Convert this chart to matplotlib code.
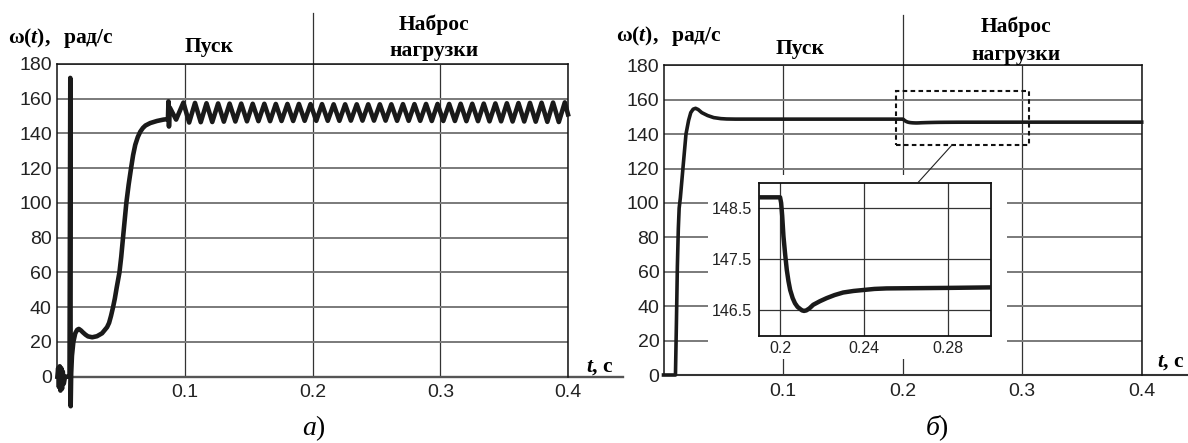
import matplotlib
matplotlib.use("Agg")
import matplotlib.pyplot as plt
from matplotlib.patches import Rectangle
from matplotlib.lines import Line2D

plt.rcParams['mathtext.fontset'] = 'custom'
plt.rcParams['mathtext.rm'] = 'Liberation Serif:bold'
plt.rcParams['mathtext.bf'] = 'Liberation Serif:bold:italic'
plt.rcParams['mathtext.it'] = 'Liberation Serif:italic'

# ---------------- data ----------------
y_ticks = [0, 20, 40, 60, 80, 100, 120, 140, 160, 180]
x_ticks = [0.1, 0.2, 0.3, 0.4]
x_ticklabels = ["0.1", "0.2", "0.3", "0.4"]
inset_x_ticks = [0.2, 0.24, 0.28]
inset_x_ticklabels = ["0.2", "0.24", "0.28"]
inset_y_ticks = [146.5, 147.5, 148.5]
inset_y_ticklabels = ["146.5", "147.5", "148.5"]

y_label = r"$\mathrm{\omega(}\mathbf{t}\mathrm{),}$  рад/с"
t_label = r"$\mathbf{t}$, с"
stage_start = "Пуск"
stage_load_1 = "Наброс"
stage_load_2 = "нагрузки"
panel_a = r"$\mathit{а}$)"
panel_b = r"$\mathit{б}$)"

# panel (a): start-up transient
t_a_start = [0.0, 0.0006, 0.0012, 0.0018, 0.0024, 0.0030, 0.0036, 0.0042, 0.0050,
             0.0060, 0.0075, 0.0095, 0.0101, 0.0104, 0.0108, 0.0114, 0.0125, 0.0140,
             0.0155, 0.0168, 0.0185, 0.0200, 0.0220, 0.0240, 0.0273, 0.0310, 0.0350,
             0.0389, 0.0405, 0.0420, 0.0436, 0.0450, 0.0465, 0.0486, 0.0500, 0.0514,
             0.0527, 0.0540, 0.0558, 0.0577, 0.0593, 0.0610, 0.0630, 0.0649, 0.0670,
             0.0690, 0.0727, 0.0780, 0.0831, 0.0866, 0.0870, 0.0874, 0.0880, 0.0930]
w_a_start = [0, 5, -6, 6, -8, 5, -7, 3, -4,
             0, 0, 0, 172, -17, 2, 12, 20, 25,
             27.0, 27.5, 26.6, 25.5, 24.2, 23.2, 22.7, 23.3, 25.0,
             28.5, 31.0, 35.0, 40.0, 45.0, 51.5, 60.0, 69.0, 80.0,
             90.0, 100.0, 110.5, 120.0, 127.5, 133.5, 138.0, 141.0, 143.2,
             144.6, 146.0, 147.2, 148.0, 148.3, 158.5, 144.0, 155.0, 148.0]

# panel (a): steady-state ripple, peaks and troughs
t_a_peaks = [0.0987, 0.1078, 0.1168, 0.1259, 0.1349, 0.1440, 0.1530, 0.1621, 0.1711,
             0.1802, 0.1892, 0.1983, 0.2073, 0.2164, 0.2254, 0.2345, 0.2435, 0.2526,
             0.2616, 0.2707, 0.2797, 0.2888, 0.2978, 0.3069, 0.3159, 0.3250, 0.3340,
             0.3431, 0.3521, 0.3612, 0.3702, 0.3793, 0.3883, 0.3975]
w_a_peaks = [157.8, 157.6, 157.4, 157.3, 157.2, 157.2, 157.1, 157.1, 157.0,
             157.0, 157.0, 156.9, 156.9, 156.8, 156.8, 156.8, 156.8, 156.8,
             156.8, 156.9, 156.9, 157.0, 157.0, 157.0, 157.1, 157.1, 157.2,
             157.3, 157.4, 157.5, 157.6, 157.7, 157.8, 157.9]
t_a_troughs = [0.1032, 0.1123, 0.1213, 0.1304, 0.1394, 0.1485, 0.1575, 0.1666, 0.1756,
               0.1847, 0.1937, 0.2028, 0.2118, 0.2209, 0.2299, 0.2390, 0.2480, 0.2571,
               0.2661, 0.2752, 0.2842, 0.2933, 0.3023, 0.3114, 0.3204, 0.3295, 0.3385,
               0.3476, 0.3566, 0.3657, 0.3747, 0.3838, 0.3928]
w_a_troughs = [146.3, 146.5, 146.6, 146.8, 146.9, 147.0, 147.1, 147.1, 147.2,
               147.2, 147.3, 147.3, 147.3, 147.3, 147.4, 147.4, 147.4, 147.4,
               147.3, 147.3, 147.3, 147.2, 147.2, 147.2, 147.1, 147.1, 147.0,
               147.0, 146.9, 146.9, 146.8, 146.7, 146.6]
t_a_end = [0.4000]
w_a_end = [151.0]

# panel (b)
t_b = [0.0, 0.0100, 0.0108, 0.0116, 0.0124, 0.0131, 0.0141, 0.0165, 0.0188, 0.0210,
       0.0228, 0.0248, 0.0268, 0.0290, 0.0320, 0.0369, 0.0420, 0.0480, 0.0528, 0.0600,
       0.1000, 0.1500, 0.2000, 0.2005, 0.2010, 0.2016, 0.2024, 0.2032, 0.2040, 0.2048,
       0.2060, 0.2071, 0.2083, 0.2095, 0.2105, 0.2114, 0.2125, 0.2140, 0.2158, 0.2190,
       0.2222, 0.2260, 0.2301, 0.2350, 0.2400, 0.2450, 0.2508, 0.2800, 0.3006, 0.3500,
       0.4000]
w_b = [0, 0, 30, 63, 85, 97, 103, 122, 140, 148,
       152.5, 154.5, 155.0, 154.3, 152.5, 150.8, 149.6, 149.0, 148.8, 148.72,
       148.71, 148.71, 148.71, 148.60, 148.35, 147.95, 147.60, 147.29, 147.07, 146.90,
       146.74, 146.64, 146.57, 146.53, 146.50, 146.49, 146.50, 146.54, 146.61, 146.68,
       146.74, 146.80, 146.85, 146.88, 146.90, 146.92, 146.93, 146.94, 146.95, 146.96,
       146.96]

# dashed zoom frame (t0, t1, w0, w1) and inset limits
zoom_t = [0.1944, 0.3054]
zoom_w = [133.7, 165.1]
inset_xlim = [0.1897, 0.3006]
inset_ylim = [146.0, 148.99]

# ---------------- build ripple series ----------------
osc = sorted(list(zip(t_a_peaks, w_a_peaks)) + list(zip(t_a_troughs, w_a_troughs)))
t_a = t_a_start + [p[0] for p in osc] + t_a_end
w_a = w_a_start + [p[1] for p in osc] + w_a_end

# ---------------- figure ----------------
W, H = 1188, 443
fig = plt.figure(figsize=(W / 100, H / 100), dpi=100)


def fx(x):
    return x / W


def fy(y):
    return 1 - y / H


SANS = 'Liberation Sans'
SERIF = 'Liberation Serif'
CURVE = '#1a1a1a'
HGRID = '#7a7a7a'
VGRID = '#333333'
TICK_FS = 14


def setup(ax, pad_y):
    ax.set_xlim(0, 0.4)
    ax.set_ylim(0, 180)
    ax.set_xticks(x_ticks)
    ax.set_xticklabels(x_ticklabels)
    ax.set_yticks(y_ticks)
    ax.set_yticklabels([str(v) for v in y_ticks])
    ax.tick_params(length=0, labelsize=TICK_FS, colors='#222222')
    ax.tick_params(axis='y', pad=pad_y)
    ax.tick_params(axis='x', pad=5.5)
    for lab in ax.get_xticklabels() + ax.get_yticklabels():
        lab.set_fontfamily(SANS)
    ax.yaxis.grid(True, color=HGRID, lw=1.4)
    ax.xaxis.grid(True, color=VGRID, lw=0.9)
    ax.set_axisbelow(True)
    for s in ['left', 'top', 'right']:
        ax.spines[s].set_color('#111111')
        ax.spines[s].set_linewidth(1.1)
    ax.spines['bottom'].set_visible(False)
    # vertical line at 0.2 extends above the plot area
    ax.plot([0.2, 0.2], [180, 209.5], color=VGRID, lw=0.9, clip_on=False, zorder=1)


# ---- panel (a) ----
axL = fig.add_axes([fx(57.4), fy(376.7), fx(568 - 57.4), (376.7 - 64) / H])
setup(axL, pad_y=4.0)
axL.plot([0, 0.4429], [0, 0], color='#555555', lw=1.7, clip_on=False, zorder=2)
axL.plot(t_a, w_a, color=CURVE, lw=3.3, clip_on=False, zorder=3,
         solid_joinstyle='round')

# ---- panel (b) ----
axR = fig.add_axes([fx(663.5), fy(375), fx(1141.7 - 663.5), (375 - 65.3) / H])
setup(axR, pad_y=3.0)
axR.plot([0, 0.4386], [0, 0], color='#333333', lw=1.5, clip_on=False, zorder=2)
axR.plot(t_b, w_b, color=CURVE, lw=2.6, clip_on=False, zorder=3)
axR.add_patch(Rectangle((zoom_t[0], zoom_w[0]), zoom_t[1] - zoom_t[0], zoom_w[1] - zoom_w[0],
                        fill=False, edgecolor='#111111', lw=1.5, ls=(0, (2.2, 1.6)), zorder=4))

# white backing behind inset
fig.add_artist(Rectangle((fx(707.6), fy(359.3)), fx(1007 - 707.6), (359.3 - 175) / H,
                         transform=fig.transFigure, facecolor='white', edgecolor='none',
                         zorder=1))
# connector
fig.add_artist(Line2D([fx(952), fx(917.9)], [fy(145), fy(182.7)],
                      transform=fig.transFigure, color='#222222', lw=0.8, zorder=3))

axI = fig.add_axes([fx(758.5), fy(336), fx(991 - 758.5), (336 - 183) / H])
axI.set_zorder(2)
axI.set_xlim(*inset_xlim)
axI.set_ylim(*inset_ylim)
axI.set_xticks(inset_x_ticks)
axI.set_xticklabels(inset_x_ticklabels)
axI.set_yticks(inset_y_ticks)
axI.set_yticklabels(inset_y_ticklabels)
axI.tick_params(length=0, labelsize=11.5, colors='#222222')
axI.tick_params(axis='y', pad=5.0)
axI.tick_params(axis='x', pad=3.5)
for lab in axI.get_xticklabels() + axI.get_yticklabels():
    lab.set_fontfamily(SANS)
axI.grid(True, color=VGRID, lw=0.9)
axI.set_axisbelow(True)
for s in axI.spines.values():
    s.set_color('#111111')
    s.set_linewidth(1.3)
axI.plot(t_b, w_b, color=CURVE, lw=3.2, zorder=3, solid_joinstyle='round')

# ---------------- texts ----------------
lab_fs = 15.5
for (x, y) in [(8.5, 38), (615.5, 36)]:
    fig.text(fx(x), fy(y), y_label, family=SERIF, weight='bold', fontsize=lab_fs,
             ha='left', va='center')
for (x, y) in [(208.6, 46.7), (800.4, 49.3)]:
    fig.text(fx(x), fy(y), stage_start, family=SERIF, weight='bold', fontsize=lab_fs,
             ha='center', va='center')
for (x, y1, y2) in [(434, 25, 50.7), (1016, 26.7, 55)]:
    fig.text(fx(x), fy(y1), stage_load_1, family=SERIF, weight='bold', fontsize=lab_fs,
             ha='center', va='center')
    fig.text(fx(x), fy(y2), stage_load_2, family=SERIF, weight='bold', fontsize=lab_fs,
             ha='center', va='center')
fig.text(fx(585.5), fy(366.7), t_label, family=SERIF, weight='bold', fontsize=lab_fs,
         ha='left', va='center')
fig.text(fx(1185), fy(361.7), t_label, family=SERIF, weight='bold', fontsize=lab_fs,
         ha='right', va='center')
fig.text(fx(313.8), fy(428), panel_a, family=SERIF, fontsize=20, ha='center', va='center')
fig.text(fx(937), fy(428), panel_b, family=SERIF, fontsize=20, ha='center', va='center')

fig.savefig("out.png", dpi=100, facecolor='white')
